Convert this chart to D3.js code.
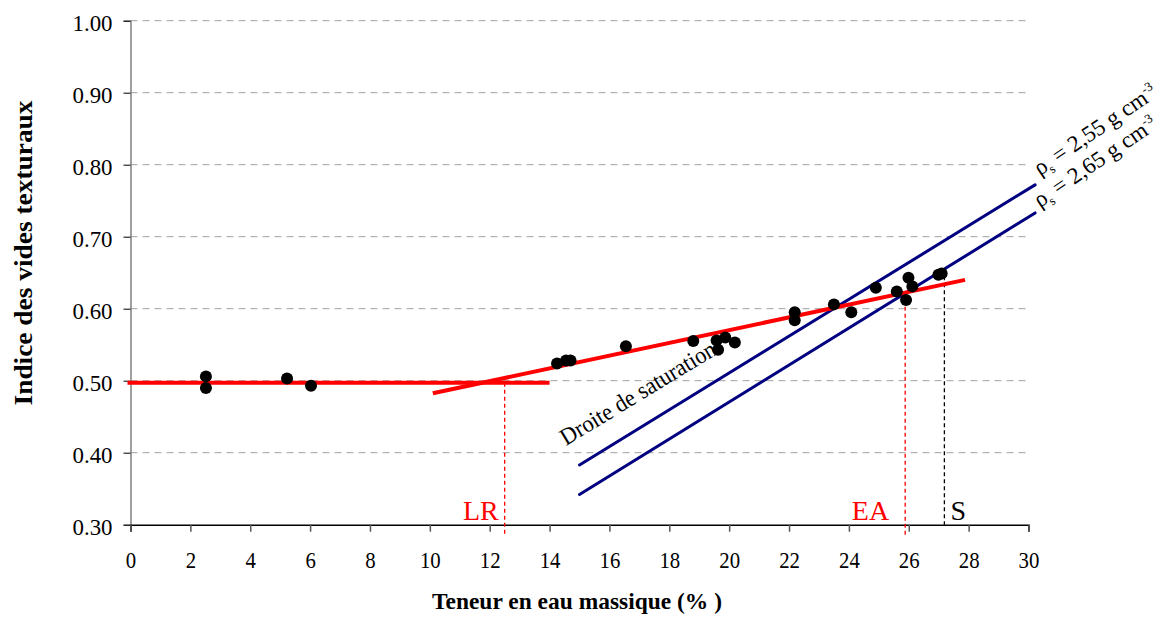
<!DOCTYPE html>
<html><head><meta charset="utf-8">
<script src="https://cdn.jsdelivr.net/npm/d3@7"></script>
<style>
body{margin:0;background:#fff;}
svg{display:block;font-family:"Liberation Serif","Times New Roman",serif;}
</style></head>
<body>
<svg id="c" width="1158" height="617"></svg>
<script>
// ---- data ----
const xTicks = [0,2,4,6,8,10,12,14,16,18,20,22,24,26,28,30];
const yTicks = [0.30,0.40,0.50,0.60,0.70,0.80,0.90,1.00];
const pointsX = [2.52,2.52,5.23,6.03,14.25,14.55,14.7,16.55,18.8,19.58,19.63,19.87,20.19,22.19,22.19,23.5,24.08,24.9,25.6,25.91,25.99,26.12,26.99,27.1];
const pointsY = [0.506,0.490,0.503,0.493,0.524,0.528,0.528,0.548,0.555,0.556,0.543,0.560,0.553,0.595,0.584,0.606,0.595,0.629,0.624,0.612,0.643,0.631,0.647,0.649];
const flatFitX = [-0.1, 14.0];
const flatFitY = [0.497, 0.497];
const slopeFitX = [10.1, 27.88];
const slopeFitY = [0.4825, 0.640];
const sat255X = [15, 30.22];
const sat255Y = [0.383, 0.772];
const sat265X = [15, 30.22];
const sat265Y = [0.342, 0.733];
const markerNames = ["LR","EA","S"];
const markerX = [12.5, 25.88, 27.19];
const markerTop = [0.497, 0.622, 0.645];
const xTitle = "Teneur en eau massique (% )";
const yTitle = "Indice des vides texturaux";

// ---- layout ----
const svg = d3.select("#c");
const x = d3.scaleLinear().domain([0,30]).range([130.5,1028.5]);
const y = d3.scaleLinear().domain([0.3,1.0]).range([524.7,20.7]);
const serif = '"Liberation Serif","Times New Roman",serif';

// grid
svg.append("g").selectAll("line").data(yTicks.filter(d=>d>0.3)).join("line")
  .attr("x1", x(0)).attr("x2", x(30))
  .attr("y1", d=>y(d)).attr("y2", d=>y(d))
  .attr("stroke","#a0a0a0").attr("stroke-width",1).attr("stroke-dasharray","7,5");

// axes
const gy = svg.append("g").attr("transform",`translate(${x(0)},0)`)
  .call(d3.axisLeft(y).tickValues(yTicks).tickFormat(d3.format(".2f")).tickSize(7).tickPadding(11));
gy.select(".domain").attr("stroke","#808080").attr("stroke-width",1.5);
gy.selectAll(".tick line").attr("stroke","#000");
gy.selectAll("text").attr("font-family",serif).attr("font-size",24).attr("fill","#000")
  .attr("textLength",40).attr("lengthAdjust","spacingAndGlyphs").attr("dy","0.4em");

const gx = svg.append("g").attr("transform",`translate(0,${y(0.3)})`)
  .call(d3.axisBottom(x).tickValues(xTicks).tickFormat(d3.format("d")).tickSize(7).tickPadding(21));
gx.select(".domain").attr("stroke","#000").attr("stroke-width",1.5);
gx.selectAll(".tick line").attr("stroke","#555").attr("stroke-width",1.5);
gx.selectAll("text").attr("font-family",serif).attr("font-size",24).attr("fill","#000")
  .attr("textLength",d=>String(d).length*10.4).attr("lengthAdjust","spacingAndGlyphs").attr("dy","0.62em");

// titles
svg.append("text").attr("x",577).attr("y",609).attr("text-anchor","middle")
  .attr("font-family",serif).attr("font-weight","bold").attr("font-size",23)
  .attr("textLength",290).attr("lengthAdjust","spacingAndGlyphs").text(xTitle);
svg.append("text").attr("transform","translate(32,253) rotate(-90)").attr("text-anchor","middle")
  .attr("font-family",serif).attr("font-weight","bold").attr("font-size",26)
  .attr("textLength",305).attr("lengthAdjust","spacingAndGlyphs").text(yTitle);

// marker vertical dashed lines
const mColors = ["#ff0000","#ff0000","#000"];
markerNames.forEach((n,i)=>{
  svg.append("line").attr("x1",x(markerX[i])).attr("x2",x(markerX[i]))
    .attr("y1",y(markerTop[i])).attr("y2", i<2 ? y(0.3)+10 : y(0.3))
    .attr("stroke",mColors[i]).attr("stroke-width",1.3).attr("stroke-dasharray","4,3");
});
const mOff = [-6,-16,6];
markerNames.forEach((n,i)=>{
  svg.append("text").attr("x",x(markerX[i])+mOff[i]).attr("y",520)
    .attr("text-anchor", i<2 ? "end":"start")
    .attr("font-family",serif).attr("font-size",28).attr("fill",mColors[i]).text(n);
});

// saturation lines
const line = d3.line().x(d=>x(d[0])).y(d=>y(d[1]));
[[sat255X,sat255Y],[sat265X,sat265Y]].forEach(([xs,ys])=>{
  svg.append("path").attr("d",line(d3.zip(xs,ys))).attr("fill","none")
    .attr("stroke","#000080").attr("stroke-width",3).attr("stroke-linecap","round");
});

// fit lines
[[flatFitX,flatFitY],[slopeFitX,slopeFitY]].forEach(([xs,ys])=>{
  svg.append("path").attr("d",line(d3.zip(xs,ys))).attr("fill","none")
    .attr("stroke","#ff0000").attr("stroke-width",4);
});

// points
svg.append("g").selectAll("circle").data(d3.zip(pointsX,pointsY)).join("circle")
  .attr("cx",d=>x(d[0])).attr("cy",d=>y(d[1])).attr("r",6).attr("fill","#000");

// labels on saturation lines
const ang = -Math.atan((y(sat255Y[0])-y(sat255Y[1]))/(x(sat255X[1])-x(sat255X[0])))*180/Math.PI;
svg.append("text").attr("transform",`translate(566,446) rotate(${ang+0.3})`)
  .attr("font-family",serif).attr("font-size",24)
  .attr("textLength",178).attr("lengthAdjust","spacingAndGlyphs").text("Droite de saturation");

function rhoLabel(px,py,val){
  const t = svg.append("text").attr("transform",`translate(${px},${py}) rotate(${ang-2.5})`)
    .attr("font-family",serif).attr("font-size",23);
  t.append("tspan").text("ρ");
  t.append("tspan").attr("font-size",13).attr("dy",5).text("s");
  t.append("tspan").attr("dy",-5).text(" = " + val + " g cm");
  t.append("tspan").attr("font-size",13).attr("dy",-9).text("-3");
}
rhoLabel(1040,176,"2,55");
rhoLabel(1040,208,"2,65");
</script>
</body></html>
